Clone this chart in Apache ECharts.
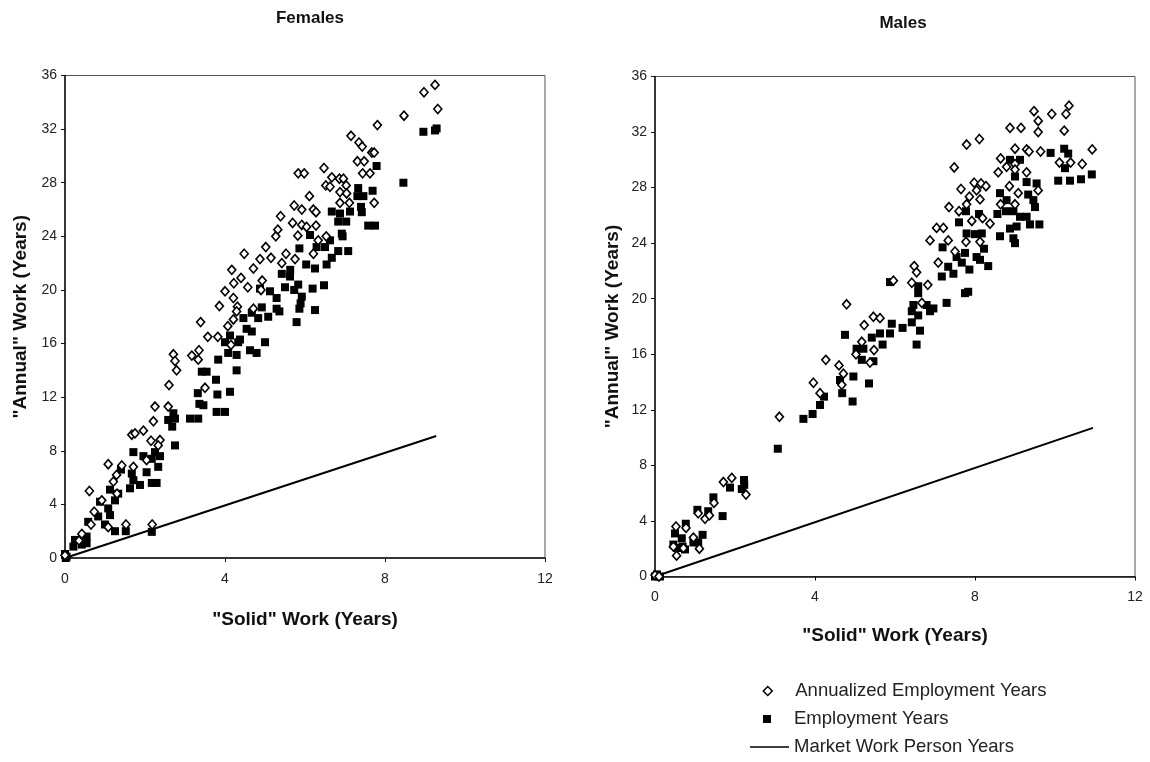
<!DOCTYPE html>
<html><head><meta charset="utf-8">
<script src="https://cdn.jsdelivr.net/npm/echarts@6/dist/echarts.min.js"></script>
<style>html,body{margin:0;padding:0;background:#fff}#c{width:1150px;height:762px}</style>
</head><body><div id="c"></div>
<script>
// ---- Data ----
const xTicks = [0, 4, 8, 12];
const yTicks = [0, 4, 8, 12, 16, 20, 24, 28, 32, 36];
const seriesNames = ['Annualized Employment Years', 'Employment Years', 'Market Work Person Years'];

const femAnnual = [
[5.83,28.7],[5.98,28.7],[5.73,26.3],[5.92,26.0],[5.39,25.5],[5.69,25.0],[5.92,24.85],[5.32,24.5],[5.27,24.0],[5.82,24.05],
[4.48,22.7],[5.02,23.2],[4.875,22.3],[5.15,22.4],[5.525,22.7],[4.17,21.5],[4.71,21.6],[5.42,22.0],[4.4,20.9],[4.22,20.5],
[4.57,20.2],[4.93,20.7],[4.0,19.9],[4.21,19.4],[3.86,18.8],[4.31,18.75],[4.9,20.0],[4.71,18.6],
[9.25,35.3],[8.975,34.75],[9.32,33.5],[8.475,33.0],[7.81,32.3],[7.15,31.5],[7.35,31.0],[7.43,30.7],[7.67,30.25],[7.73,30.25],
[6.475,29.1],[7.31,29.6],[7.48,29.6],[7.44,28.7],[7.625,28.7],[6.67,28.4],[6.86,28.3],[6.96,28.3],[6.52,27.8],[6.625,27.7],
[7.03,27.8],[6.875,27.3],[7.04,27.2],[6.11,27.0],[6.875,26.5],[7.11,26.5],[7.73,26.5],[6.21,26.0],[6.275,25.8],[6.275,24.8],
[6.04,24.7],[6.33,23.7],[6.53,24.0],[6.21,22.7],[5.75,22.3],
[3.39,17.6],[4.07,17.3],[4.29,18.4],[4.21,17.8],[3.57,16.5],[3.82,16.5],[4.15,15.9],[2.71,15.2],[2.75,14.7],[2.79,14.0],
[3.17,15.1],[3.35,15.5],[3.33,14.8],[2.6,12.9],[3.5,12.7],[2.25,11.3],[2.58,11.3],[2.21,10.2],[1.67,9.2],[1.75,9.3],
[1.96,9.5],[2.15,8.75],[2.375,8.8],[2.33,8.4],[2.04,7.3],[1.08,7.0],[1.42,6.9],[1.71,6.8],[1.29,6.2],[1.21,5.7],
[0.61,5.0],[0.92,4.3],[0.73,3.45],[1.08,2.3],[1.525,2.5],[2.18,2.5],[0.42,1.8],[0.0,0.2],[0.35,1.3],[0.65,2.5],[1.3,4.8]
];
const femEmploy = [
[5.86,23.1],[5.63,21.5],[5.42,21.2],[4.875,20.1],[5.125,19.9],[5.5,20.2],[5.73,20.0],[5.29,19.4],[5.92,19.5],[4.92,18.7],[5.29,18.6],
[8.96,31.8],[9.25,31.9],[9.29,32.05],[7.79,29.25],[8.46,28.0],[7.33,27.6],[7.69,27.4],[7.31,27.0],[7.46,27.0],[7.4,26.2],
[7.125,25.85],[7.42,25.8],[6.67,25.85],[6.875,25.7],[6.83,25.1],[7.03,25.1],[7.58,24.8],[7.75,24.8],[6.92,24.2],[6.125,24.1],
[6.625,23.7],[6.94,24.0],[6.29,23.2],[6.5,23.2],[6.83,22.9],[7.08,22.9],[6.67,22.4],[6.25,21.6],[6.54,21.9],[6.03,21.9],
[6.475,20.35],[6.19,20.1],[5.89,19.0],[6.25,18.5],
[5.625,21.0],[5.83,20.4],[5.86,18.6],[5.79,17.6],[5.36,18.4],[5.08,18.0],[4.83,17.9],[4.54,17.1],[4.375,16.3],
[4.46,17.9],[4.67,18.3],[4.67,16.9],[4.125,16.6],[4.0,16.1],[4.33,16.1],[5.0,16.1],[4.625,15.5],[4.79,15.3],[3.83,14.8],
[4.08,15.3],[4.29,15.15],[4.29,14.0],[3.42,13.9],[3.54,13.9],[3.775,13.3],[3.32,12.3],[3.81,12.2],[4.125,12.4],[3.36,11.5],
[3.46,11.4],[3.79,10.9],[4.0,10.9],[2.71,10.8],[2.75,10.4],[2.58,10.3],[2.68,9.8],[3.125,10.4],[3.33,10.4],[2.75,8.4],
[1.71,7.9],[1.96,7.6],[2.25,7.9],[2.375,7.6],[2.17,7.4],[1.4,6.6],[1.67,6.3],[2.33,6.8],[2.04,6.4],[1.71,5.8],
[1.875,5.45],[2.17,5.6],[2.29,5.6],[1.625,5.2],[1.33,4.8],[1.125,5.1],[1.25,4.3],[0.875,4.2],[1.08,3.7],[1.125,3.2],
[0.83,3.1],[1.0,2.5],[0.58,2.7],[1.25,2.0],[1.52,2.0],[2.17,1.95],[0.54,1.6],[0.25,1.35],[0.42,1.0],[0.54,1.1],
[0.21,0.85],[0.04,0.1],[0.0,0.3],[0.02,0.0]
];
const femMarket = [[0,0],[9.28,9.1]];

const maleAnnual = [
[4.79,19.6],[5.46,18.7],[5.625,18.6],
[10.35,33.9],[10.275,33.3],[9.475,33.5],[9.92,33.3],[9.58,32.8],[8.875,32.3],[9.15,32.3],[9.58,32.0],[10.23,32.1],[7.79,31.1],
[8.11,31.5],[7.48,29.45],[9.0,30.8],[9.29,30.75],[9.35,30.6],[9.64,30.6],[10.93,30.75],[8.64,30.1],[8.79,29.5],[9.0,29.7],
[10.11,29.8],[10.39,29.8],[10.68,29.7],[8.58,29.1],[9.0,29.3],[9.29,29.1],[7.65,27.9],[7.98,28.35],[8.15,28.3],[8.275,28.1],
[8.04,27.8],[8.86,28.1],[9.58,27.8],[7.86,27.35],[8.125,27.15],[9.08,27.6],[7.35,26.6],[7.79,26.8],[7.6,26.3],[8.64,26.8],
[9.0,26.8],[7.92,25.6],[8.19,25.8],[8.375,25.4],[7.04,25.1],[7.21,25.1],[6.875,24.2],[7.33,24.2],[7.775,24.1],[8.125,24.1],
[7.5,23.4],[7.08,22.6],[5.96,21.3],[6.48,22.35],[6.54,21.9],[6.42,21.15],[6.82,21.0],[6.67,19.7],
[5.23,18.1],[5.17,16.9],[5.475,16.3],[5.025,16.0],[5.375,15.4],[4.27,15.6],[4.6,15.2],[4.71,14.6],[4.67,13.8],[4.125,13.2],
[3.96,13.95],[3.11,11.5],
[1.71,6.8],[1.92,7.1],[2.275,5.9],[1.475,5.3],[1.08,4.55],[1.25,4.15],[1.36,4.4],[0.525,3.6],[0.775,3.5],[0.96,2.8],
[0.54,1.5],[1.11,2.0],[0.71,2.05],[0.46,2.15],[0.0,0.1],[0.1,0.0]
];
const maleEmploy = [
[5.875,21.2],
[9.89,30.5],[10.23,30.8],[10.33,30.45],[10.25,29.4],[10.08,28.5],[10.375,28.5],[10.65,28.6],[10.92,28.95],[8.875,30.0],[9.125,30.0],
[9.0,28.8],[9.29,28.4],[9.54,28.3],[8.625,27.6],[8.79,27.1],[9.33,27.5],[9.46,27.1],[9.5,26.6],[8.56,26.1],[8.775,26.3],
[8.96,26.3],[9.125,25.9],[9.29,25.9],[9.375,25.35],[9.61,25.35],[7.775,26.3],[8.1,26.1],[7.6,25.5],[7.79,24.7],[8.0,24.65],
[8.17,24.7],[8.875,25.05],[9.04,25.2],[8.625,24.5],[8.96,24.35],[9.0,24.0],[7.19,23.7],[7.75,23.3],[7.54,23.0],[8.225,23.6],
[8.04,23.0],[8.125,22.8],[7.33,22.3],[7.46,21.8],[7.86,22.1],[8.33,22.35],[7.17,21.6],[7.75,20.4],[7.83,20.5],[7.29,19.7],
[6.58,20.9],[6.58,20.4],[6.46,19.55],[6.79,19.55],[6.96,19.3],[6.42,19.1],[6.875,19.1],[7.67,22.6],[6.58,18.8],
[4.75,17.4],[5.42,17.2],[5.625,17.5],[5.92,18.2],[5.875,17.5],[6.19,17.9],[6.42,18.3],[6.625,17.7],[6.54,16.7],[5.04,16.4],
[5.21,16.4],[5.69,16.7],[5.17,15.6],[5.46,15.5],[4.625,14.15],[4.96,14.4],[5.35,13.9],[4.68,13.2],[4.94,12.6],[4.225,12.95],
[4.125,12.35],[3.94,11.7],[3.71,11.35],[3.07,9.2],
[2.225,6.95],[2.23,6.6],[2.17,6.3],[1.875,6.4],[1.46,5.7],[1.69,4.35],[1.06,4.8],[1.33,4.7],[0.77,3.8],[0.5,3.1],
[1.19,3.0],[0.67,2.75],[0.96,2.45],[1.08,2.45],[0.46,2.3],[0.69,2.15],[0.56,2.05],[0.75,1.95],[0.0,0.0],[0.125,0.0],[0.05,0.15]
];
const maleMarket = [[0,0],[10.95,10.7]];

// ---- Chart ----
const narrow = "'Liberation Sans Narrow','Arial Narrow','Liberation Sans',Arial,sans-serif";
const boldFont = "'Liberation Sans',Arial,sans-serif";

function xAxisCfg(gi, gap) {
  return {
    type: 'value', gridIndex: gi, min: 0, max: 12, interval: 4,
    name: '"Solid" Work (Years)', nameLocation: 'middle', nameGap: gap,
    nameTextStyle: {fontFamily: boldFont, fontWeight: 'bold', fontSize: 19, color: '#111'},
    axisLine: {show: true, onZero: false, lineStyle: {color: '#111', width: 1.5}},
    axisTick: {show: true, length: 4, lineStyle: {color: '#111'}},
    axisLabel: {fontFamily: narrow, fontSize: 14, color: '#222', margin: 14,
      formatter: v => xTicks.includes(v) ? String(v) : ''},
    splitLine: {show: false}
  };
}
function yAxisCfg(gi, gap) {
  return {
    type: 'value', gridIndex: gi, min: 0, max: 36, interval: 4,
    name: '"Annual" Work (Years)', nameLocation: 'middle', nameGap: gap,
    nameTextStyle: {fontFamily: boldFont, fontWeight: 'bold', fontSize: 19, color: '#111'},
    axisLine: {show: true, onZero: false, lineStyle: {color: '#111', width: 1.5}},
    axisTick: {show: true, length: 4, lineStyle: {color: '#111'}},
    axisLabel: {fontFamily: narrow, fontSize: 14, color: '#222', margin: 8,
      formatter: v => yTicks.includes(v) ? String(v) : ''},
    splitLine: {show: false}
  };
}
function seriesFor(gi, annual, employ, market) {
  return [
    {name: seriesNames[2], type: 'line', xAxisIndex: gi, yAxisIndex: gi, data: market,
     symbol: 'none', lineStyle: {color: '#000', width: 2}, itemStyle: {color: '#000'}, z: 2, animation: false},
    {name: seriesNames[1], type: 'scatter', xAxisIndex: gi, yAxisIndex: gi, data: employ,
     symbol: 'rect', symbolSize: 8, itemStyle: {color: '#000', opacity: 1}, z: 3, animation: false},
    {name: seriesNames[0], type: 'scatter', xAxisIndex: gi, yAxisIndex: gi, data: annual,
     symbol: 'diamond', symbolSize: [8, 9], itemStyle: {color: '#fff', borderColor: '#000', borderWidth: 1.6, opacity: 1}, z: 4, animation: false}
  ];
}

const legendText = {fontFamily: narrow, fontSize: 18.5, color: '#222', lineHeight: 20};
function legendCfg(name, top, left, w, h, icon, style, textPad) {
  return {
    orient: 'vertical', left: left, top: top, padding: 0,
    itemWidth: w, itemHeight: h, selectedMode: false, symbolKeepAspect: false,
    textStyle: Object.assign({}, legendText, {padding: [0, 0, 0, textPad]}),
    data: [{name: name, icon: icon, itemStyle: style}]
  };
}

const chart = echarts.init(document.getElementById('c'), null, {renderer: 'canvas'});
chart.setOption({
  backgroundColor: '#fff',
  animation: false,
  title: [
    {text: 'Females', left: 305, top: 5, textAlign: 'center',
     textStyle: {fontFamily: boldFont, fontWeight: 'bold', fontSize: 17, color: '#111'}},
    {text: 'Males', left: 898, top: 10, textAlign: 'center',
     textStyle: {fontFamily: boldFont, fontWeight: 'bold', fontSize: 17, color: '#111'}}
  ],
  grid: [
    {left: 65, top: 75.5, width: 480, height: 482.5, show: true, borderColor: '#555', borderWidth: 1, backgroundColor: 'transparent'},
    {left: 655, top: 76.5, width: 480, height: 500, show: true, borderColor: '#555', borderWidth: 1, backgroundColor: 'transparent'}
  ],
  xAxis: [xAxisCfg(0, 52), xAxisCfg(1, 50)],
  yAxis: [yAxisCfg(0, 35), yAxisCfg(1, 33)],
  legend: [
    legendCfg(seriesNames[0], 681, 762.5, 9, 9, 'diamond', {color: '#fff', borderColor: '#000', borderWidth: 1.5}, 18),
    legendCfg(seriesNames[1], 709, 763, 8, 8, 'rect', {color: '#000', borderWidth: 0}, 18),
    legendCfg(seriesNames[2], 737, 750, 39, 1.6, 'rect', {color: '#000', borderWidth: 0}, 0)
  ],
  series: [].concat(seriesFor(0, femAnnual, femEmploy, femMarket), seriesFor(1, maleAnnual, maleEmploy, maleMarket))
});
</script></body></html>
